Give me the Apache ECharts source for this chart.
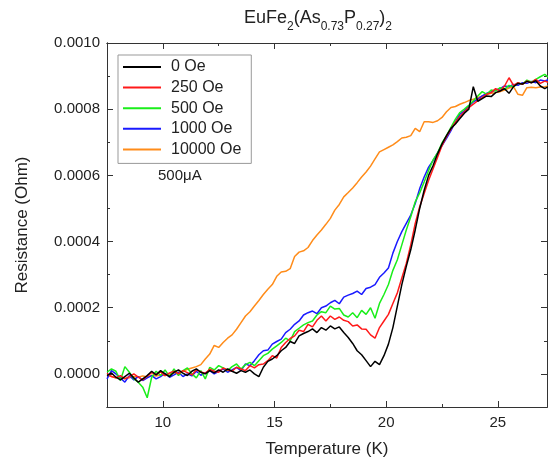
<!DOCTYPE html>
<html>
<head>
<meta charset="utf-8">
<script src="https://cdn.jsdelivr.net/npm/echarts@6/dist/echarts.min.js"></script>
<style>
html,body{margin:0;padding:0;background:#fff;}
#chart{width:548px;height:466px;}
</style>
</head>
<body>
<div id="chart"></div>
<script>
// Temperature grid (K)
const temperatureK = [7.5,7.7,7.9,8.1,8.3,8.5,8.7,8.9,9.1,9.3,9.5,9.7,9.9,10.1,10.3,10.5,10.7,10.9,11.1,11.3,
11.5,11.7,11.9,12.1,12.3,12.5,12.7,12.9,13.1,13.3,13.5,13.7,13.9,14.1,14.3,14.5,14.7,14.9,15.1,15.3,
15.5,15.7,15.9,16.1,16.3,16.5,16.7,16.9,17.1,17.3,17.5,17.7,17.9,18.1,18.3,18.5,18.7,18.9,19.1,19.3,
19.5,19.7,19.9,20.1,20.3,20.5,20.7,20.9,21.1,21.3,21.5,21.7,21.9,22.1,22.3,22.5,22.7,22.9,23.1,23.3,
23.5,23.7,23.9,24.1,24.3,24.5,24.7,24.9,25.1,25.3,25.5,25.7,25.9,26.1,26.3,26.5,26.7,26.9,27.1,27.3];

// Resistance values in micro-Ohm
const r0Oe = [-5,3,-10,-18,-8,2,-12,-25,-15,-5,8,
-3,10,0,-8,5,12,2,-5,8,15,5,0,
10,3,12,5,15,8,2,10,5,12,0,-8,
20,38,45,55,70,80,98,92,115,122,
128,136,125,140,132,145,136,142,125,110,
92,70,58,40,22,38,28,55,90,140,
205,270,325,375,435,500,555,600,630,665,
695,720,742,755,772,788,800,868,824,832,
840,838,850,855,862,848,868,878,876,884,
880,886,870,862,870];

const r250Oe = [2,-8,-12,-5,-15,-8,0,-10,-18,-6,
4,-2,6,-5,3,8,0,10,4,-3,
12,6,2,14,8,5,18,12,8,20,
15,10,25,18,28,
30,40,55,48,80,95,107,115,132,128,
150,142,162,175,160,175,165,172,162,158,
145,148,136,135,118,108,140,160,180,213,
245,290,334,390,455,505,545,585,620,655,
690,717,740,760,778,792,805,815,826,835,
845,850,862,855,870,895,872,880,875,885,
880,890,878,885,880];

const r500Oe = [5,15,8,-20,22,5,-15,-25,-40,-72,
-10,8,-5,12,-8,15,-5,10,18,0,
-12,10,-15,20,12,25,18,10,22,30,
15,28,35,25,40,
55,62,75,85,95,108,100,128,138,148,
155,160,178,188,185,205,196,198,178,172,
185,170,192,180,200,168,213,240,270,313,
345,390,435,475,520,547,580,615,647,668,
698,720,745,770,790,800,812,825,840,853,
845,858,855,865,860,872,868,880,875,888,
882,890,898,905,895];

const r1000Oe = [-15,10,0,-12,-25,-5,-18,-8,-20,-12,
-5,-15,-8,2,-10,-3,5,-8,0,-6,
8,-4,3,10,0,8,15,5,12,20,
10,30,25,40,58,
70,72,90,98,105,125,135,150,160,178,
185,190,182,200,205,215,222,212,232,238,
243,250,240,258,262,270,292,305,320,365,
400,430,455,480,515,560,595,625,645,668,
690,712,735,762,785,795,810,822,830,840,
848,852,858,862,870,868,875,872,880,878,
884,880,888,885,890];

const r10000Oe = [-5,-8,-12,-10,-14,-12,-8,-10,-6,-9,
-4,-6,-3,-5,0,3,5,8,14,18,
22,28,45,60,86,80,95,108,118,135,
155,175,188,205,222,240,256,270,295,308,
310,318,355,368,372,382,403,420,435,452,
470,495,512,535,548,562,578,595,610,628,
650,671,678,685,692,702,713,715,720,742,
732,762,762,760,765,775,792,805,808,815,
820,826,830,835,840,844,848,850,853,858,
864,868,845,842,865,866,865,867,868,870];

const seriesNames = ['0 Oe','250 Oe','500 Oe','1000 Oe','10000 Oe'];
const seriesColors = ['#000000','#ff1a1a','#1aee1a','#1a1aff','#ff8c1a'];
const seriesValues = [r0Oe, r250Oe, r500Oe, r1000Oe, r10000Oe];

// Axis ticks
const xMajorTicks = [10,15,20,25];
const xMinorTicks = [12.5,17.5,22.5];
const yMajorTicks = [0,0.0002,0.0004,0.0006,0.0008,0.001];
const yMinorTicks = [0.0001,0.0003,0.0005,0.0007,0.0009];
const X_MIN = 7.5, X_MAX = 27.2, Y_MIN = -0.0001, Y_MAX = 0.001;

const FONT = 'Liberation Sans, Arial, sans-serif';
const AX = '#333';

function xAxisDef(pos, ticks, len, labels) {
  return {
    type:'value', position:pos, min:X_MIN, max:X_MAX,
    splitLine:{show:false},
    axisLine:{show:true, onZero:false, lineStyle:{color:AX, width:1}},
    axisTick:{show:true, inside:true, length:len, customValues:ticks, lineStyle:{color:AX, width:1}},
    axisLabel: labels ? {show:true, customValues:xMajorTicks, margin:8, color:'#222', fontSize:15, fontFamily:FONT} : {show:false},
    name: labels ? 'Temperature (K)' : '',
    nameLocation:'middle', nameGap:34,
    nameTextStyle:{color:'#222', fontSize:17, fontFamily:FONT}
  };
}
function yAxisDef(pos, ticks, len, labels) {
  return {
    type:'value', position:pos, min:Y_MIN, max:Y_MAX,
    splitLine:{show:false},
    axisLine:{show:true, onZero:false, lineStyle:{color:AX, width:1}},
    axisTick:{show:true, inside:true, length:len, customValues:ticks, lineStyle:{color:AX, width:1}},
    axisLabel: labels ? {show:true, customValues:yMajorTicks, margin:7, color:'#222', fontSize:15, fontFamily:FONT,
      formatter: v => Number(v).toFixed(4)} : {show:false},
    name: labels ? 'Resistance (Ohm)' : '',
    nameLocation:'middle', nameGap:76,
    nameTextStyle:{color:'#222', fontSize:17, fontFamily:FONT}
  };
}

const chart = echarts.init(document.getElementById('chart'), null, {renderer:'canvas'});

const drawOrder = [4,3,2,1,0];
const series = drawOrder.map(i => ({
  name: seriesNames[i],
  type:'line',
  xAxisIndex:0, yAxisIndex:0,
  showSymbol:false,
  symbol:'none',
  animation:false,
  lineStyle:{color:seriesColors[i], width:1.5},
  itemStyle:{color:seriesColors[i]},
  data: temperatureK.map((t,k) => [t, seriesValues[i][k]*1e-6])
}));

chart.setOption({
  animation:false,
  backgroundColor:'#fff',
  title:{
    text:'{n|EuFe}{s|2}{n|(As}{s|0.73}{n|P}{s|0.27}{n|)}{s|2}',
    left:313, top:4, textAlign:'center',
    textStyle:{
      fontWeight:'normal',
      rich:{
        n:{fontSize:18, fontFamily:FONT, fontWeight:'normal', color:'#222', lineHeight:20, verticalAlign:'top'},
        s:{fontSize:12, fontFamily:FONT, fontWeight:'normal', color:'#222', lineHeight:12, verticalAlign:'top', padding:[12,0,0,0]}
      }
    }
  },
  grid:{left:107, right:1, top:43, bottom:59, containLabel:false},
  legend:{
    data: seriesNames,
    orient:'vertical', left:118, top:55,
    itemWidth:38, itemHeight:2, itemGap:4.6,
    icon:'rect',
    padding:[4,10,6,5],
    borderColor:'#999', borderWidth:1,
    backgroundColor:'#fff',
    textStyle:{fontSize:16, fontFamily:FONT, color:'#222', lineHeight:16, padding:[0,0,0,5]}
  },
  xAxis:[
    xAxisDef('bottom', xMajorTicks, 6, true),
    xAxisDef('bottom', xMinorTicks, 3, false),
    xAxisDef('top', xMajorTicks, 6, false),
    xAxisDef('top', xMinorTicks, 3, false)
  ],
  yAxis:[
    yAxisDef('left', yMajorTicks, 6, true),
    yAxisDef('left', yMinorTicks, 3, false),
    yAxisDef('right', yMajorTicks, 6, false),
    yAxisDef('right', yMinorTicks, 3, false)
  ],
  graphic:[{
    type:'text', left:158, top:168,
    style:{text:'500μA', fontSize:15, fontFamily:FONT, fill:'#222'}
  }],
  series: series
});
</script>
</body>
</html>
